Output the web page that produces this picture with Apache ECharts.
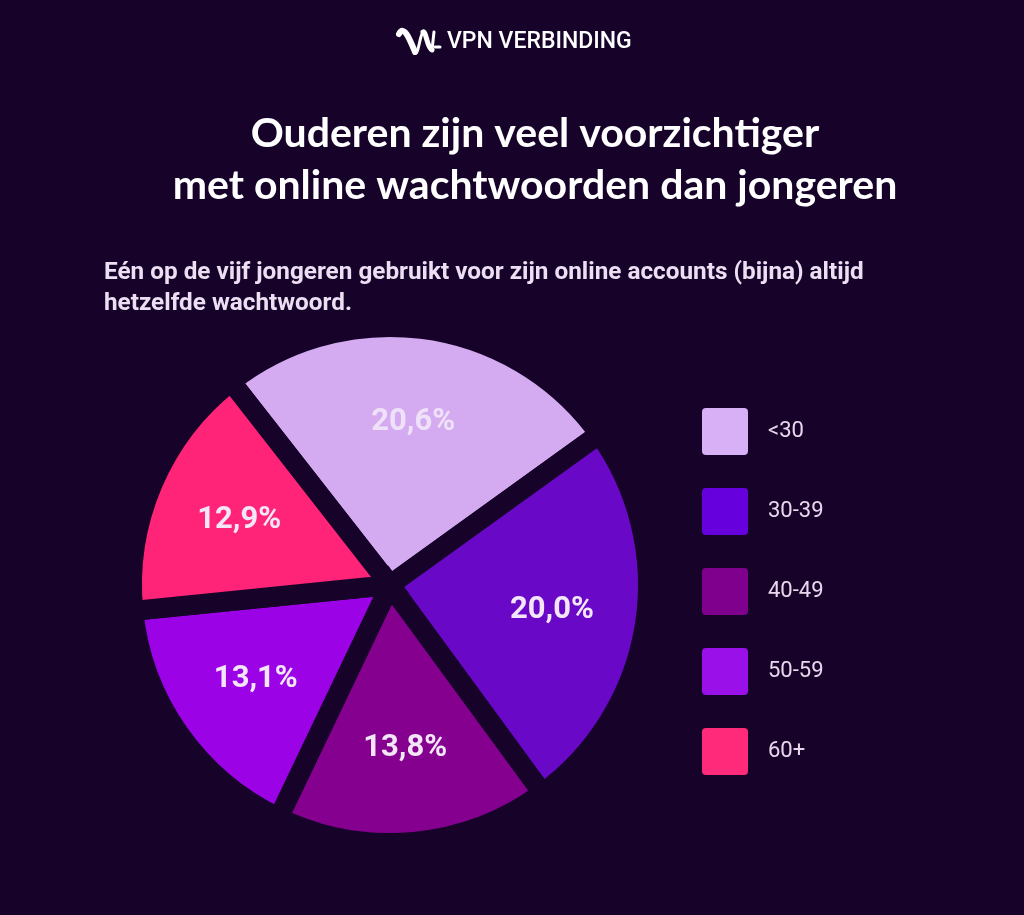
<!DOCTYPE html>
<html>
<head>
<meta charset="utf-8">
<script src="https://cdn.jsdelivr.net/npm/echarts@6/dist/echarts.min.js"></script>
<style>
html,body{margin:0;padding:0;background:#17032a;}
#chart{width:1024px;height:915px;}
</style>
</head>
<body>
<div id="chart"></div>
<script>
var categories = ['<30', '30-39', '40-49', '50-59', '60+'];
var values = [20.6, 20.0, 13.8, 13.1, 12.9];
var labels = ['20,6%', '20,0%', '13,8%', '13,1%', '12,9%'];
var colors = ['#d4abf0', '#6a08c8', '#85008f', '#9b03e6', '#ff2478'];
var legendColors = ['#d8b0f5', '#6600dd', '#7e008c', '#9a10e8', '#ff2a7a'];
var titleText = 'Ouderen zijn veel voorzichtiger\nmet online wachtwoorden dan jongeren';
var subtitleText = 'Eén op de vijf jongeren gebruikt voor zijn online accounts (bijna) altijd\nhetzelfde wachtwoord.';
var brandText = 'VPN VERBINDING';

var bg = '#17032a';
var chart = echarts.init(document.getElementById('chart'));

var mainData = categories.map(function (c, i) {
  return { name: c, value: values[i], itemStyle: { color: colors[i] } };
});
var labelData = categories.map(function (c, i) {
  return { name: c, value: values[i], label: { formatter: labels[i], color: i === 0 ? '#efe1f8' : '#f3e6f8' } };
});

var iconStroke = { stroke: '#ffffff', lineWidth: 5, lineCap: 'round', fill: null };

chart.setOption({
  backgroundColor: bg,
  animation: false,
  legend: {
    orient: 'vertical',
    left: 702,
    top: 408,
    padding: 0,
    itemWidth: 46,
    itemHeight: 47,
    itemGap: 33,
    icon: 'path://M4,0 H42 A4,4 0 0 1 46,4 V43 A4,4 0 0 1 42,47 H4 A4,4 0 0 1 0,43 V4 A4,4 0 0 1 4,0 Z',
    selectedMode: false,
    data: categories.map(function (c, i) {
      return { name: c, itemStyle: { color: legendColors[i], borderWidth: 0 } };
    }),
    textStyle: { color: '#e8d8ee', fontSize: 22, fontFamily: 'Roboto', padding: [0, 0, 0, 15] }
  },
  graphic: [
    {
      type: 'text', x: 447, y: 42,
      style: { text: brandText, fill: '#ffffff', font: '500 23px Roboto', verticalAlign: 'middle' }
    },
    {
      type: 'bezierCurve',
      shape: { x1: 399, y1: 34, x2: 415, y2: 52, cpx1: 404, cpy1: 24, cpx2: 410, cpy2: 40 },
      style: { stroke: '#ffffff', lineWidth: 6, lineCap: 'round', fill: null }
    },
    {
      type: 'bezierCurve',
      shape: { x1: 415, y1: 52, x2: 423, y2: 32, cpx1: 418, cpy1: 58, cpx2: 420, cpy2: 34 },
      style: { stroke: '#ffffff', lineWidth: 3, lineCap: 'round', fill: null }
    },
    {
      type: 'bezierCurve',
      shape: { x1: 423, y1: 32, x2: 432, y2: 50, cpx1: 426, cpy1: 30, cpx2: 427, cpy2: 48 },
      style: iconStroke
    },
    {
      type: 'line',
      shape: { x1: 432, y1: 50, x2: 434, y2: 32 },
      style: { stroke: '#ffffff', lineWidth: 3, lineCap: 'round' }
    },
    {
      type: 'line',
      shape: { x1: 435, y1: 47, x2: 440, y2: 47 },
      style: { stroke: '#ffffff', lineWidth: 3, lineCap: 'round' }
    },
    {
      type: 'text', x: 535, y: 108,
      style: { text: titleText, fill: '#ffffff', font: 'bold 41px Lato', align: 'center', lineHeight: 52 }
    },
    {
      type: 'text', x: 104, y: 257,
      style: { text: subtitleText, fill: '#ecdff3', font: 'bold 24.3px Roboto', lineHeight: 31 }
    }
  ],
  series: [
    {
      type: 'pie',
      center: [390, 585],
      radius: [0, 258],
      startAngle: 128,
      clockwise: true,
      silent: true,
      label: { show: false },
      labelLine: { show: false },
      itemStyle: { borderColor: bg, borderWidth: 20, borderJoin: 'miter' },
      data: mainData
    },
    {
      type: 'pie',
      center: [390, 585],
      radius: [64, 258],
      startAngle: 128,
      clockwise: true,
      silent: true,
      itemStyle: { color: 'rgba(0,0,0,0)' },
      label: { show: true, position: 'inside', fontSize: 31, fontWeight: 'bold', fontFamily: 'Roboto' },
      labelLine: { show: false },
      legendHoverLink: false,
      data: labelData
    }
  ]
});
</script>
</body>
</html>
